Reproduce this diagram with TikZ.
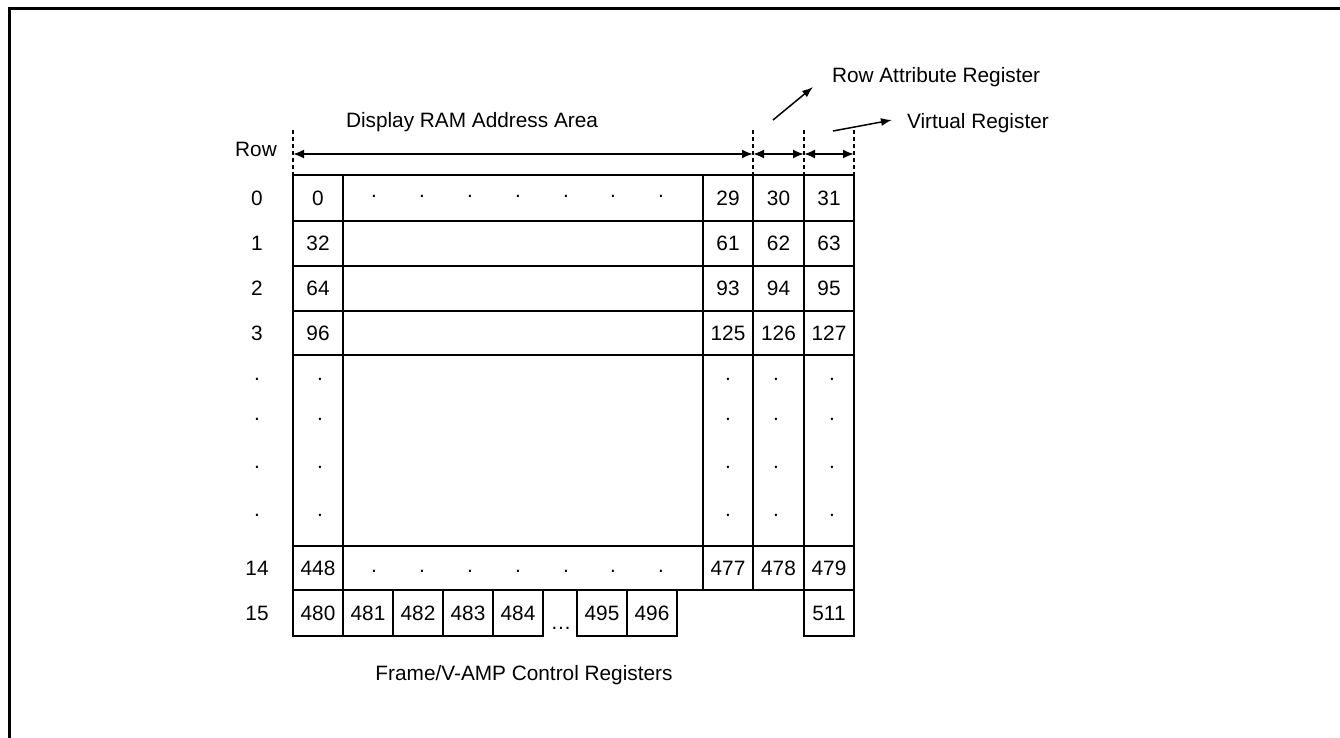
\documentclass[tikz,border=0pt]{standalone}
\usepackage{fontspec}
\setmainfont{Liberation Sans}
\usetikzlibrary{arrows.meta}
\begin{document}
\begin{tikzpicture}[x=1pt,y=-1pt,
  every node/.style={font=\fontsize{20.8}{24}\selectfont, inner sep=0pt, outer sep=0pt},
  cellwh/.style 2 args={draw, line width=2pt, minimum width=#1, minimum height=#2},
  gdot/.style={anchor=base},
  lbl/.style={anchor=base},
  guide/.style={line width=2pt, dash pattern=on 4pt off 3pt},
  dim/.style={line width=2pt, {Latex[length=11pt,width=9pt]}-{Latex[length=11pt,width=9pt]}},
  pointer/.style={line width=1.5pt, -{Latex[length=11pt,width=8pt]}},
  frameline/.style={line width=3pt}
]
\useasboundingbox (0,0) rectangle (1340,738);
% outer frame (only left and top visible)
\coordinate (fbl) at (9,740);
\coordinate (ftl) at (9,9);
\coordinate (ftr) at (1342,9);
\draw[frameline] (fbl) -- (ftl) -- (ftr);

% row 0
\node[cellwh={50pt}{46pt}] (a0) at (318,198) {0};
\node[cellwh={360pt}{46pt}] (b0) at (523,198) {};
\node[cellwh={50pt}{46pt}] (c0) at (728,198) {29};
\node[cellwh={51pt}{46pt}] (d0) at (778.5,198) {30};
\node[cellwh={50pt}{46pt}] (e0) at (829,198) {31};
% row 1
\node[cellwh={50pt}{45pt}] (a1) at (318,243.5) {32};
\node[cellwh={360pt}{45pt}] (b1) at (523,243.5) {};
\node[cellwh={50pt}{45pt}] (c1) at (728,243.5) {61};
\node[cellwh={51pt}{45pt}] (d1) at (778.5,243.5) {62};
\node[cellwh={50pt}{45pt}] (e1) at (829,243.5) {63};
% row 2
\node[cellwh={50pt}{45pt}] (a2) at (318,288.5) {64};
\node[cellwh={360pt}{45pt}] (b2) at (523,288.5) {};
\node[cellwh={50pt}{45pt}] (c2) at (728,288.5) {93};
\node[cellwh={51pt}{45pt}] (d2) at (778.5,288.5) {94};
\node[cellwh={50pt}{45pt}] (e2) at (829,288.5) {95};
% row 3
\node[cellwh={50pt}{44pt}] (a3) at (318,333) {96};
\node[cellwh={360pt}{44pt}] (b3) at (523,333) {};
\node[cellwh={50pt}{44pt}] (c3) at (728,333) {125};
\node[cellwh={51pt}{44pt}] (d3) at (778.5,333) {126};
\node[cellwh={50pt}{44pt}] (e3) at (829,333) {127};
% dotted rows
\node[cellwh={50pt}{191pt}] (ad) at (318,450.5) {};
\node[cellwh={360pt}{191pt}] (bd) at (523,450.5) {};
\node[cellwh={50pt}{191pt}] (cd) at (728,450.5) {};
\node[cellwh={51pt}{191pt}] (dd) at (778.5,450.5) {};
\node[cellwh={50pt}{191pt}] (ed) at (829,450.5) {};
% row 14
\node[cellwh={50pt}{44pt}] (a14) at (318,568) {448};
\node[cellwh={360pt}{44pt}] (b14) at (523,568) {};
\node[cellwh={50pt}{44pt}] (c14) at (728,568) {477};
\node[cellwh={51pt}{44pt}] (d14) at (778.5,568) {478};
\node[cellwh={50pt}{44pt}] (e14) at (829,568) {479};
% row 15
\node[cellwh={50pt}{46pt}] (f480) at (318,613) {480};
\node[cellwh={50pt}{46pt}] (f481) at (368,613) {481};
\node[cellwh={50pt}{46pt}] (f482) at (418,613) {482};
\node[cellwh={50pt}{46pt}] (f483) at (468,613) {483};
\node[cellwh={50pt}{46pt}] (f484) at (518,613) {484};
\node[lbl] (fell) at (561,629) {\dots};
\node[cellwh={50pt}{46pt}] (f495) at (602,613) {495};
\node[cellwh={50pt}{46pt}] (f496) at (652,613) {496};
\node[cellwh={50pt}{46pt}] (f511) at (829,613) {511};

% row labels
\node (r0) at (257,198) {0};
\node (r1) at (257,243.5) {1};
\node (r2) at (257,288.5) {2};
\node (r3) at (257,333) {3};
\node (r14) at (257,568) {14};
\node (r15) at (257,613) {15};
\node[lbl] (rowlbl) at (256,157) {Row};

% dots in row 0 and row 14
\foreach \x [count=\i] in {374,422,470,518,566,613,661}{
  \node[gdot] (p0-\i) at (\x,197) {.};
  \node[gdot] (p14-\i) at (\x,572) {.};
}
% vertical dots
\foreach \y [count=\j] in {379,419,467,515}{
  \foreach \x [count=\i] in {257,320,728,776,832}{
    \node[gdot] (v\i-\j) at (\x,\y+1) {.};
  }
}

% guides and dimension arrows
\coordinate (g1) at (293,130);
\coordinate (g2) at (753,130);
\coordinate (g3) at (804,130);
\coordinate (g4) at (854,130);
\draw[guide] (g1) -- (a0.north west);
\draw[guide] (g2) -- (d0.north west);
\draw[guide] (g3) -- (e0.north west);
\draw[guide] (g4) -- (e0.north east);
\coordinate (h1) at (293,154);
\coordinate (h2) at (753,154);
\coordinate (h3) at (804,154);
\coordinate (h4) at (854,154);
\draw[dim] (h1) -- (h2);
\draw[dim] (h2) -- (h3);
\draw[dim] (h3) -- (h4);

% labels
\node[lbl] (dram) at (472,128) {Display RAM Address Area};
\node[lbl, anchor=base west] (rar) at (832,83) {Row Attribute Register};
\node[lbl, anchor=base west] (vr) at (907,129) {Virtual Register};
\node[lbl] (fv) at (524,680) {Frame/V-AMP Control Registers};

\coordinate (rars) at (773,120);
\coordinate (rare) at (813,87);
\draw[pointer] (rars) -- (rare);
\coordinate (vrs) at (833,131);
\coordinate (vre) at (892,120);
\draw[pointer] (vrs) -- (vre);
\end{tikzpicture}
\end{document}
